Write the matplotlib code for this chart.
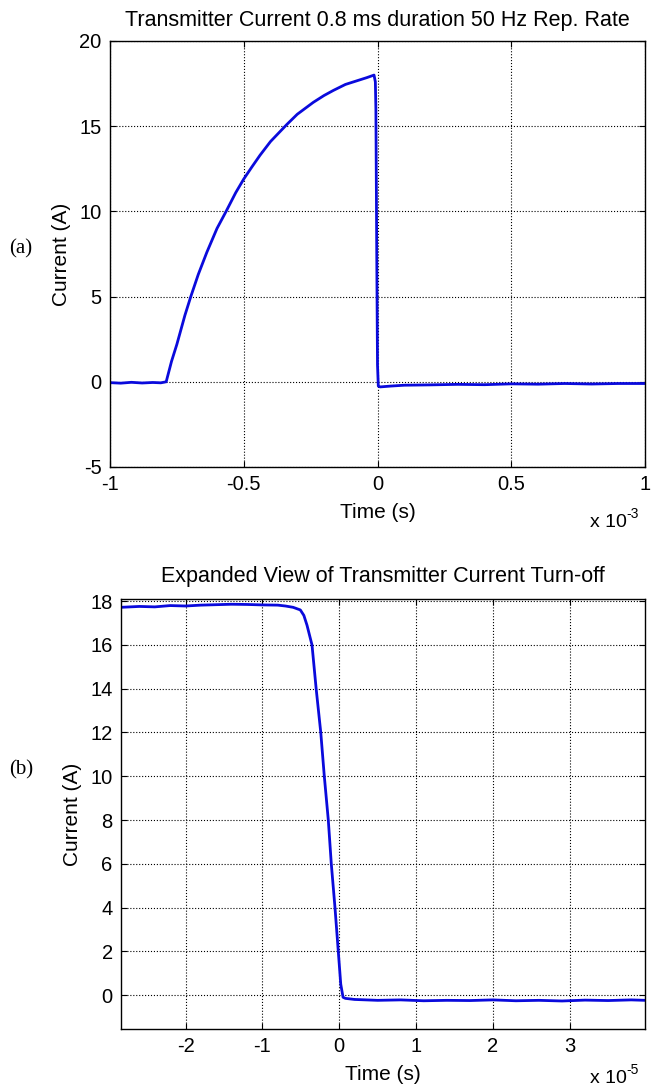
import numpy as np
import matplotlib.pyplot as plt
from matplotlib.ticker import FuncFormatter

plt.rcParams['font.family'] = ['Liberation Sans', 'DejaVu Sans']
plt.rcParams['axes.unicode_minus'] = False

# (a) full pulse, time in ms (scaled to s below)
t_a_ms = [-1.0, -0.96, -0.92, -0.88, -0.84, -0.81, -0.79, -0.77, -0.75, -0.72,
          -0.698, -0.67, -0.638, -0.6, -0.566, -0.53, -0.5, -0.47, -0.439, -0.4,
          -0.339, -0.3, -0.24, -0.2, -0.165, -0.12, -0.08, -0.04, -0.013, -0.008,
          -0.006, -0.003, 0.0, 0.003, 0.01, 0.05, 0.1, 0.2, 0.3, 0.4, 0.5, 0.6,
          0.7, 0.8, 0.9, 1.0]
i_a = [-0.05, -0.08, -0.03, -0.07, -0.04, -0.06, 0.0, 1.2, 2.2, 3.9,
       5.0, 6.3, 7.6, 9.0, 10.0, 11.1, 11.9, 12.6, 13.3, 14.1,
       15.1, 15.7, 16.4, 16.8, 17.1, 17.45, 17.65, 17.85, 18.0, 17.6,
       16.0, 8.0, 1.0, -0.25, -0.3, -0.25, -0.2, -0.18, -0.15, -0.17, -0.12, -0.14,
       -0.1, -0.13, -0.1, -0.1]

# (b) turn-off detail, time in units of 1e-5 s
t_b_10us = [-2.84, -2.6, -2.4, -2.2, -2.0, -1.8, -1.6, -1.4, -1.2, -1.0,
            -0.8, -0.7, -0.6, -0.506, -0.46, -0.419, -0.354, -0.30, -0.24,
            -0.194, -0.142, -0.103, -0.055, -0.012, 0.02, 0.05, 0.08, 0.2, 0.5,
            0.8, 1.1, 1.4, 1.7, 2.0, 2.3, 2.6, 2.9, 3.2, 3.5, 3.8, 3.98]
i_b = [17.72, 17.76, 17.74, 17.8, 17.78, 17.82, 17.84, 17.86, 17.85, 17.83,
       17.82, 17.78, 17.72, 17.6, 17.35, 16.9, 16.0, 14.0, 12.0,
       10.0, 8.0, 6.0, 4.0, 2.0, 0.5, -0.1, -0.15, -0.2, -0.24,
       -0.22, -0.26, -0.24, -0.25, -0.22, -0.26, -0.24, -0.27, -0.23, -0.25, -0.22, -0.24]

t_a = np.array(t_a_ms) * 1e-3
t_b = np.array(t_b_10us) * 1e-5
blue = '#0a0adc'

fig = plt.figure(figsize=(6.52, 10.9), dpi=100)

ax1 = fig.add_axes([110 / 652, 1 - 467 / 1090, 535 / 652, 426 / 1090])
ax1.plot(t_a, i_a, color=blue, lw=2)
ax1.set_xlim(-1e-3, 1e-3)
ax1.set_ylim(-5, 20)
ax1.set_xticks([-1e-3, -0.5e-3, 0, 0.5e-3, 1e-3])
ax1.xaxis.set_major_formatter(FuncFormatter(lambda v, p: '%g' % round(v * 1e3, 3)))
ax1.set_yticks([-5, 0, 5, 10, 15, 20])
ax1.set_title('Transmitter Current 0.8 ms duration 50 Hz Rep. Rate', fontsize=15.5, pad=11)
ax1.set_xlabel('Time (s)', fontsize=15, labelpad=6)
ax1.set_ylabel('Current (A)', fontsize=15, labelpad=6)

ax2 = fig.add_axes([121 / 652, 1 - 1029 / 1090, 524 / 652, 430 / 1090])
ax2.plot(t_b, i_b, color=blue, lw=2)
ax2.set_xlim(-2.84e-5, 3.98e-5)
ax2.set_ylim(-1.55, 18.1)
ax2.set_xticks([-2e-5, -1e-5, 0, 1e-5, 2e-5, 3e-5])
ax2.xaxis.set_major_formatter(FuncFormatter(lambda v, p: '%g' % round(v * 1e5, 3)))
ax2.set_yticks(np.arange(0, 19, 2))
ax2.set_title('Expanded View of Transmitter Current Turn-off', fontsize=15.5, pad=12)
ax2.set_xlabel('Time (s)', fontsize=15, labelpad=6)
ax2.set_ylabel('Current (A)', fontsize=15, labelpad=6)

for ax in (ax1, ax2):
    ax.grid(True, linestyle=':', color='k', lw=0.8)
    ax.tick_params(direction='in', labelsize=14.5, length=4, pad=6, top=True, right=True)
    for s in ax.spines.values():
        s.set_linewidth(1.0)

# "x 10^-n" multiplier labels, hyphen exponent as in the original
for y_px, exp_txt in [(527, '-3'), (1083, '-5')]:
    fig.text(590 / 652, 1 - y_px / 1090, 'x 10', fontsize=14)
    fig.text(626 / 652, 1 - (y_px - 9) / 1090, exp_txt, fontsize=10)

fig.text(9 / 652, 1 - 249 / 1090, '(a)', fontsize=15, family='Liberation Serif', va='center')
fig.text(9 / 652, 1 - 770 / 1090, '(b)', fontsize=15, family='Liberation Serif', va='center')

fig.savefig('out.png', dpi=100)
